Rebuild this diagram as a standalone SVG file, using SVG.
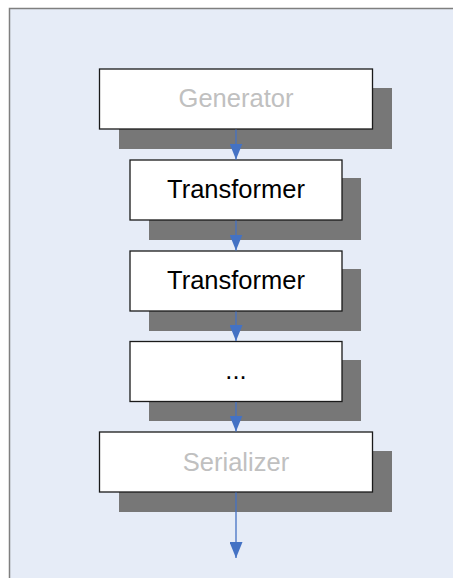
<svg xmlns="http://www.w3.org/2000/svg" width="453" height="578" viewBox="0 0 453 578">
  <style>
    .shadow { fill: #777777; }
    .box { fill: #FFFFFF; stroke: #1A1A1A; stroke-width: 1.3; }
    .label { font-family: "Liberation Sans", Arial, sans-serif; font-size: 25.5px; text-anchor: middle; }
    .dim { fill: #C0C0C0; }
    .dark { fill: #000000; }
    .link { stroke: #4472C4; stroke-width: 1.3; fill: none; marker-end: url(#arrow); }
  </style>
  <defs>
    <marker id="arrow" markerUnits="userSpaceOnUse" markerWidth="16" markerHeight="13" refX="16" refY="6.5" orient="auto" viewBox="0 0 16 13">
      <path d="M0,0 L16,6.5 L0,13 Z" fill="#4472C4"/>
    </marker>
  </defs>

  <!-- page background -->
  <rect x="0" y="0" width="453" height="578" fill="#FFFFFF"/>
  <rect x="9" y="8" width="444" height="570" fill="#E6ECF7"/>
  <path d="M9.5,578 L9.5,8.5 L453,8.5" fill="none" stroke="#7F7F7F" stroke-width="1.5"/>

  <g id="generator">
    <rect class="shadow" x="119" y="88" width="273" height="61"/>
    <rect class="box" x="99.5" y="69" width="273" height="60"/>
    <text class="label dim" x="236" y="107">Generator</text>
  </g>

  <g id="transformer1">
    <rect class="shadow" x="149" y="178" width="212" height="62"/>
    <rect class="box" x="130" y="160" width="212" height="60"/>
    <text class="label dark" x="236" y="198">Transformer</text>
  </g>

  <g id="transformer2">
    <rect class="shadow" x="149" y="269" width="212" height="62"/>
    <rect class="box" x="130" y="251" width="212" height="60"/>
    <text class="label dark" x="236" y="289">Transformer</text>
  </g>

  <g id="more">
    <rect class="shadow" x="149" y="360" width="212" height="61"/>
    <rect class="box" x="130" y="341.5" width="212" height="60"/>
    <text class="label dark" x="236" y="379">...</text>
  </g>

  <g id="serializer">
    <rect class="shadow" x="119" y="451" width="273" height="61"/>
    <rect class="box" x="99.5" y="432" width="273" height="60"/>
    <text class="label dim" x="236" y="471">Serializer</text>
  </g>

  <g id="connectors">
    <line class="link" x1="236" y1="129.5" x2="236" y2="159.5"/>
    <line class="link" x1="236" y1="220.5" x2="236" y2="250.5"/>
    <line class="link" x1="236" y1="311.5" x2="236" y2="341"/>
    <line class="link" x1="236" y1="402" x2="236" y2="431.5"/>
    <line class="link" x1="236" y1="492.5" x2="236" y2="558"/>
  </g>
</svg>
